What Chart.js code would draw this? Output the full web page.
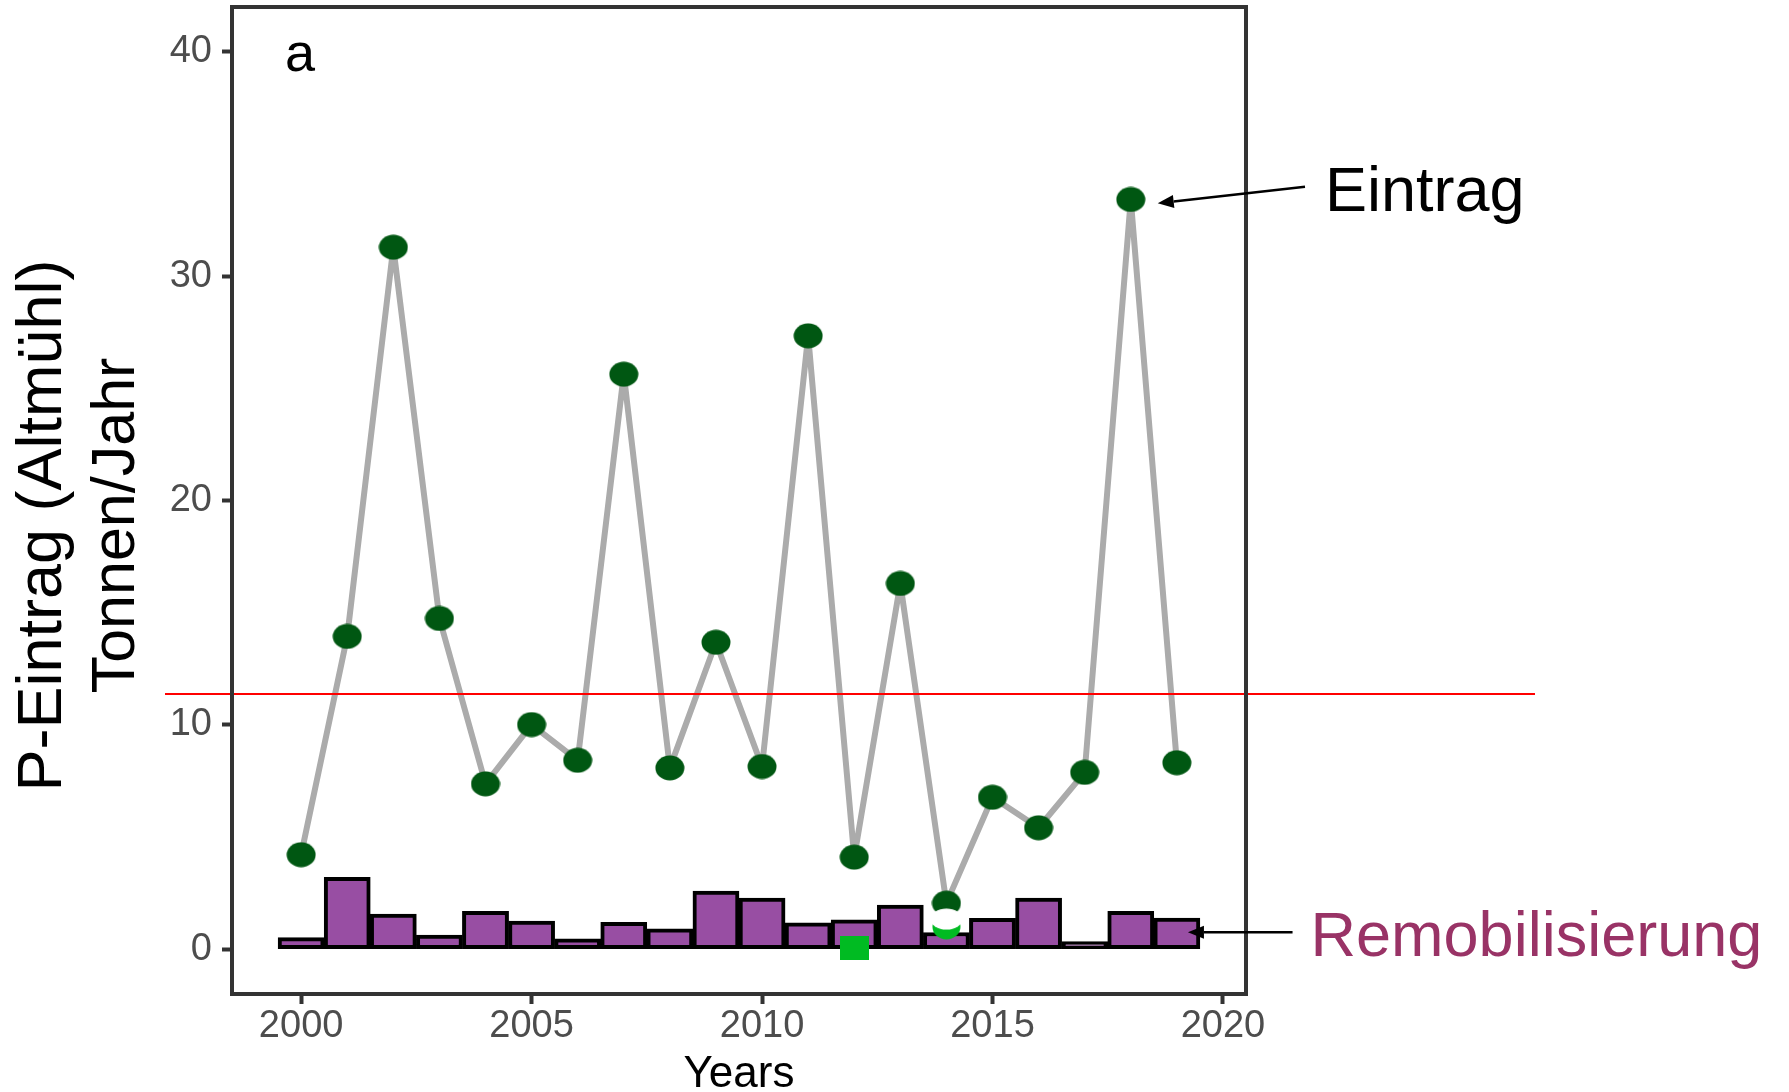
<!DOCTYPE html>
<html>
<head>
<meta charset="utf-8">
<script src="https://cdn.jsdelivr.net/npm/chart.js@4.4.0/dist/chart.umd.min.js"></script>
<style>
  html, body { margin: 0; padding: 0; background: #ffffff; }
  #wrap { width: 1789px; height: 1092px; }
</style>
</head>
<body>
<div id="wrap"><canvas id="chart" width="1789" height="1092"></canvas></div>
<script>
// Annual phosphorus load of the Altmühl (t/yr) and internal remobilisation
const years = [2000, 2001, 2002, 2003, 2004, 2005, 2006, 2007, 2008, 2009,
               2010, 2011, 2012, 2013, 2014, 2015, 2016, 2017, 2018, 2019];
const eintrag = [4.21, 13.94, 31.29, 14.74, 7.37, 10.01, 8.42, 25.63, 8.08, 13.68,
                 8.14, 27.34, 4.10, 16.30, 2.05, 6.77, 5.41, 7.88, 33.42, 8.31];
const remobilisierung = [0.51, 3.20, 1.56, 0.63, 1.68, 1.25, 0.46, 1.19, 0.91, 2.59,
                         2.28, 1.17, 1.31, 1.96, 0.74, 1.37, 2.28, 0.34, 1.68, 1.39];
const xTicks = [2000, 2005, 2010, 2015, 2020];
const yTicks = [0, 10, 20, 30, 40];
const xRange = [1998.5, 2020.5];
const yRange = [-2, 42];
const thresholdLevel = 11.37;

// green patches near the bottom of the panel
const patchYears = [2012, 2014];
const patchValues = [0.06, 0.99];
const maskYears = [2014];
const maskValues = [1.34];

const FONT = '"Liberation Sans", Arial, Helvetica, sans-serif';

function ellipseSprite(w, h, color) {
  const c = document.createElement('canvas');
  c.width = w; c.height = h;
  const g = c.getContext('2d');
  g.fillStyle = color;
  g.beginPath();
  g.ellipse(w / 2, h / 2, w / 2 - 0.5, h / 2 - 0.5, 0, 0, Math.PI * 2);
  g.fill();
  return c;
}
function rectSprite(w, h, color) {
  const c = document.createElement('canvas');
  c.width = w; c.height = h;
  const g = c.getContext('2d');
  g.fillStyle = color;
  g.fillRect(0, 0, w, h);
  return c;
}

const pointSprite = ellipseSprite(30, 26, '#005712');
const patchSprites = [rectSprite(29, 24, '#00BB22'), ellipseSprite(29, 26, '#00BB22')];
const maskSprite = ellipseSprite(33, 22, '#ffffff');

function arrow(ctx, x0, y0, x1, y1) {
  const ang = Math.atan2(y1 - y0, x1 - x0);
  const len = 16, half = 6.5;
  const bx = x1 - len * Math.cos(ang), by = y1 - len * Math.sin(ang);
  ctx.beginPath();
  ctx.moveTo(x0, y0);
  ctx.lineTo(bx, by);
  ctx.stroke();
  ctx.beginPath();
  ctx.moveTo(x1, y1);
  ctx.lineTo(bx + half * Math.sin(ang), by - half * Math.cos(ang));
  ctx.lineTo(bx - half * Math.sin(ang), by + half * Math.cos(ang));
  ctx.closePath();
  ctx.fill();
}

const decorations = {
  id: 'decorations',
  afterDatasetsDraw(chart) {
    const { ctx, chartArea: a, scales: { x, y } } = chart;
    ctx.save();
    // threshold line
    const ty = y.getPixelForValue(thresholdLevel);
    ctx.strokeStyle = '#ff0000';
    ctx.lineWidth = 2;
    ctx.beginPath();
    ctx.moveTo(a.left - 67, ty);
    ctx.lineTo(a.right + 289, ty);
    ctx.stroke();
    // panel frame
    ctx.strokeStyle = '#333333';
    ctx.lineWidth = 4;
    ctx.strokeRect(a.left, a.top, a.right - a.left, a.bottom - a.top);
    // panel tag
    ctx.fillStyle = '#000000';
    ctx.font = '54px ' + FONT;
    ctx.textAlign = 'left';
    ctx.textBaseline = 'alphabetic';
    ctx.fillText('a', a.left + 53, a.top + 64);
    // series labels with arrows
    ctx.strokeStyle = '#000000';
    ctx.fillStyle = '#000000';
    ctx.lineWidth = 2.5;
    const e0x = x.getPixelForValue(2021.78), e0y = y.getPixelForValue(33.99);
    arrow(ctx, e0x, e0y, x.getPixelForValue(2018.585), y.getPixelForValue(33.25));
    const r0x = x.getPixelForValue(2021.51), r0y = y.getPixelForValue(0.75);
    arrow(ctx, r0x, r0y, x.getPixelForValue(2019.24), r0y);
    ctx.font = '63px ' + FONT;
    ctx.fillText('Eintrag', e0x + 20, e0y + 24);
    ctx.fillStyle = '#993366';
    ctx.fillText('Remobilisierung', r0x + 18, r0y + 24);
    // y axis title
    ctx.fillStyle = '#000000';
    ctx.textAlign = 'center';
    ctx.textBaseline = 'middle';
    const cy = (a.top + a.bottom) / 2 + 25;
    ctx.translate(44, cy);
    ctx.rotate(-Math.PI / 2);
    ctx.font = '63px ' + FONT;
    ctx.fillText('P-Eintrag (Altmühl)', 0, 0);
    ctx.font = '61px ' + FONT;
    ctx.fillText('Tonnen/Jahr', 0, 73);
    ctx.restore();
  }
};

const tickFont = { family: FONT, size: 38 };

function noEdgePadding(ax) {
  ax.paddingTop = 0;
  ax.paddingBottom = 0;
  ax.paddingLeft = 0;
  ax.paddingRight = 0;
}

new Chart(document.getElementById('chart'), {
  type: 'bar',
  data: {
    datasets: [
      {
        type: 'line',
        label: 'mask',
        data: maskYears.map((yr, i) => ({ x: yr, y: maskValues[i] })),
        showLine: false,
        pointStyle: maskSprite,
        pointRadius: 12,
        order: 0
      },
      {
        type: 'line',
        label: 'patch',
        data: patchYears.map((yr, i) => ({ x: yr, y: patchValues[i] })),
        showLine: false,
        pointStyle: patchSprites,
        pointRadius: 12,
        order: 2
      },
      {
        type: 'line',
        label: 'Eintrag',
        data: years.map((yr, i) => ({ x: yr, y: eintrag[i] })),
        borderColor: '#ABABAB',
        borderWidth: 6,
        borderJoinStyle: 'round',
        pointStyle: pointSprite,
        pointRadius: 13,
        tension: 0,
        order: 1
      },
      {
        type: 'bar',
        label: 'Remobilisierung',
        data: years.map((yr, i) => ({ x: yr, y: remobilisierung[i] })),
        backgroundColor: '#984EA3',
        borderColor: '#000000',
        borderWidth: 4,
        borderSkipped: false,
        barPercentage: 1,
        categoryPercentage: 1,
        order: 3
      }
    ]
  },
  options: {
    responsive: false,
    animation: false,
    devicePixelRatio: 1,
    layout: { autoPadding: false, padding: { left: 0, top: 7, right: 543, bottom: 0 } },
    plugins: { legend: { display: false }, tooltip: { enabled: false } },
    scales: {
      x: {
        type: 'linear',
        min: xRange[0],
        max: xRange[1],
        offset: false,
        afterBuildTicks: ax => { ax.ticks = xTicks.map(v => ({ value: v })); },
        afterFit: ax => { ax.height = 98; noEdgePadding(ax); },
        ticks: {
          font: tickFont, color: '#4D4D4D', padding: 0,
          maxRotation: 0, autoSkip: false,
          callback: v => String(v)
        },
        grid: {
          drawOnChartArea: false, drawTicks: true, offset: false,
          tickLength: 10, tickWidth: 4, tickColor: '#333333', color: '#333333'
        },
        border: { display: false },
        title: {
          display: true, text: 'Years', color: '#000000',
          font: { family: FONT, size: 44 }, padding: { top: 0, bottom: -9 }
        }
      },
      y: {
        type: 'linear',
        min: yRange[0],
        max: yRange[1],
        afterBuildTicks: ax => { ax.ticks = yTicks.map(v => ({ value: v })); },
        afterFit: ax => { ax.width = 232; noEdgePadding(ax); },
        ticks: {
          font: tickFont, color: '#4D4D4D', padding: 10,
          callback: v => String(v)
        },
        grid: {
          drawOnChartArea: false, drawTicks: true,
          tickLength: 10, tickWidth: 4, tickColor: '#333333', color: '#333333'
        },
        border: { display: false }
      }
    }
  },
  plugins: [decorations]
});
</script>
</body>
</html>
